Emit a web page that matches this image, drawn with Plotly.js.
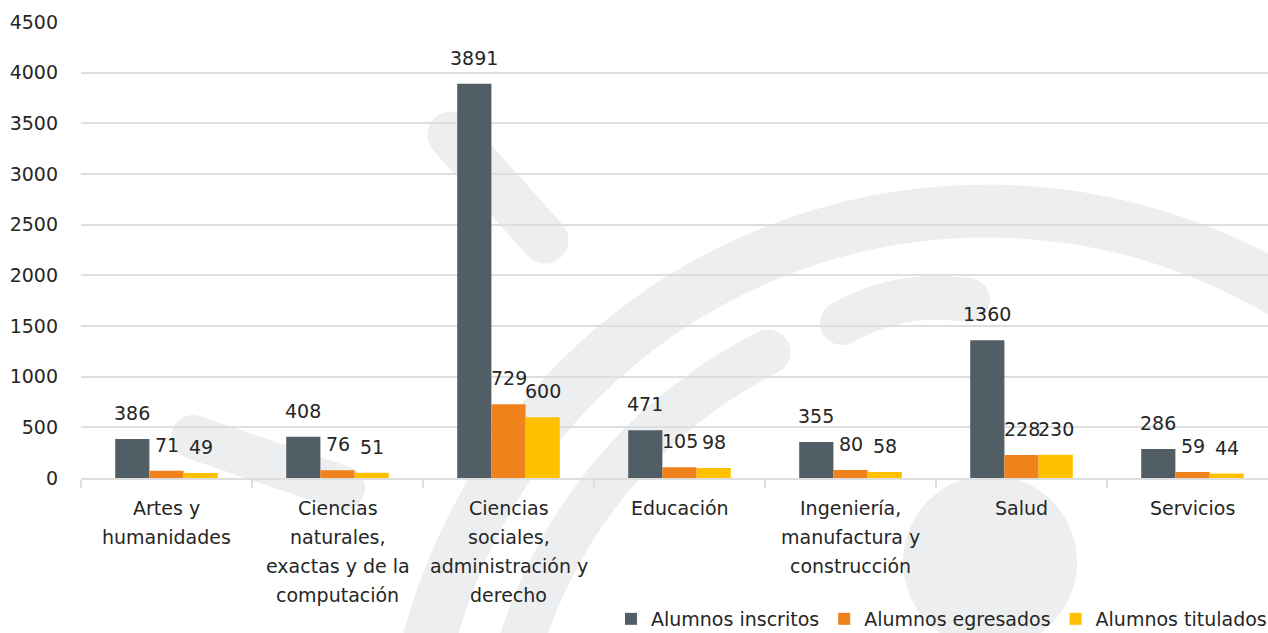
<!DOCTYPE html>
<html>
<head>
<meta charset="utf-8">
<script src="https://cdn.plot.ly/plotly-3.0.1.min.js"></script>
<style>
  html, body { margin: 0; padding: 0; background: #ffffff; }
  #wrap { position: relative; width: 1268px; height: 633px; overflow: hidden; }
  #wm { position: absolute; left: 0; top: 0; }
  #chart { position: absolute; left: 0; top: 0; width: 1268px; height: 633px; }
</style>
</head>
<body>
<div id="wrap">
  <svg id="wm" width="1268" height="633" xmlns="http://www.w3.org/2000/svg">
    <g fill="none" stroke="#edeef0" stroke-linecap="round">
      <line x1="451" y1="135" x2="545" y2="240" stroke-width="47"/>
      <line x1="193" y1="437" x2="343" y2="488" stroke-width="44"/>
      <circle cx="987" cy="788" r="577" stroke-width="53"/>
      <path d="M768,352 A488,488 0 0 0 499,788" stroke-width="45"/>
      <path d="M842,323 Q900,290 968,300" stroke-width="44"/>
    </g>
    <circle cx="990" cy="562" r="87" fill="#edeef0"/>
  </svg>
  <div id="chart"></div>
</div>
<script>
// ---- data ----
const categories = [
  "Artes y<br>humanidades",
  "Ciencias<br>naturales,<br>exactas y de la<br>computación",
  "Ciencias<br>sociales,<br>administración y<br>derecho",
  "Educación",
  "Ingeniería,<br>manufactura y<br>construcción",
  "Salud",
  "Servicios"
];
const seriesNames = ["Alumnos inscritos", "Alumnos egresados", "Alumnos titulados"];
const inscritos = [386, 408, 3891, 471, 355, 1360, 286];
const egresados = [71, 76, 729, 105, 80, 228, 59];
const titulados = [49, 51, 600, 98, 58, 230, 44];
const yTicks = [0, 500, 1000, 1500, 2000, 2500, 3000, 3500, 4000, 4500];

// ---- style ----
const colors = ["#525e66", "#f0821c", "#ffc000"];
const FONT = "DejaVu Sans";
const textColor = "#262626";
const fontSize = 19;
const gridColor = "#dedede";

const seriesValues = [inscritos, egresados, titulados];

const traces = seriesValues.map((vals, k) => ({
  type: "bar",
  name: seriesNames[k],
  x: categories,
  y: vals,
  marker: { color: colors[k], line: { width: 0 } },
  hoverinfo: "x+y+name"
}));

const W = 1268, H = 633;
const mL = 81, mR = 0, mT = 22, mB = 155;
const plotH = H - mT - mB;
const plotW = W - mL - mR;
const nCat = categories.length;
const catPx = 171; // pixel width of a category slot
const xMax = nCat - 0.5 - (mL + nCat * catPx - W) / catPx;
const barGap = 0.4;
const barPx = catPx * (1 - barGap) / 3;

const annotations = [];
// value labels
seriesValues.forEach((vals, k) => {
  vals.forEach((v, i) => {
    annotations.push({
      x: categories[i], xref: "x", y: v, yref: "y",
      xshift: (k - 1) * barPx,
      yanchor: "bottom", yshift: 13,
      text: String(v), showarrow: false,
      font: { family: FONT, size: fontSize, color: textColor }
    });
  });
});
// category labels (line by line for wider line spacing)
categories.forEach((c) => {
  c.split("<br>").forEach((line, j) => {
    annotations.push({
      x: c, xref: "x", y: 0, yref: "paper",
      yanchor: "middle", yshift: -30 - 29 * j,
      text: line, showarrow: false,
      font: { family: FONT, size: fontSize, color: textColor }
    });
  });
});

const layout = {
  width: W, height: H,
  margin: { l: mL, r: mR, t: mT, b: mB, pad: 0, autoexpand: false },
  paper_bgcolor: "rgba(0,0,0,0)",
  plot_bgcolor: "rgba(0,0,0,0)",
  font: { family: FONT, size: fontSize, color: textColor },
  barmode: "group",
  bargap: barGap,
  bargroupgap: 0,
  showlegend: true,
  legend: {
    orientation: "h",
    x: 1 + 4 / plotW, xanchor: "right",
    y: -(mB + 5) / plotH, yanchor: "bottom",
    bgcolor: "rgba(0,0,0,0)",
    font: { family: FONT, size: fontSize, color: textColor },
    traceorder: "normal"
  },
  xaxis: {
    type: "category",
    range: [-0.5, xMax],
    showticklabels: false,
    showgrid: false,
    zeroline: false,
    showline: true, linecolor: gridColor, linewidth: 2,
    ticks: "outside", tickson: "boundaries", ticklen: 8, tickwidth: 1.5, tickcolor: gridColor,
    fixedrange: true
  },
  yaxis: {
    range: [0, 4500],
    tickvals: yTicks,
    ticktext: yTicks.map(String),
    showgrid: true, gridcolor: gridColor, gridwidth: 2,
    zeroline: false,
    showline: false,
    ticks: "",
    ticklabelstandoff: 22,
    tickfont: { family: FONT, size: fontSize, color: textColor },
    fixedrange: true
  },
  annotations: annotations
};

Plotly.newPlot("chart", traces, layout, { displayModeBar: false, staticPlot: true });
</script>
</body>
</html>
